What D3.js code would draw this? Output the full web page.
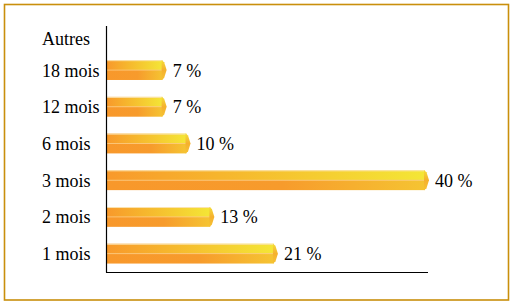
<!DOCTYPE html>
<html>
<head>
<meta charset="utf-8">
<script src="https://cdn.jsdelivr.net/npm/d3@7"></script>
<style>
  html, body { margin: 0; padding: 0; background: #fff; }
  svg { display: block; }
</style>
</head>
<body>
<svg id="chart" width="521" height="306"></svg>
<script>
/* chart data, top to bottom */
const categories = ['Autres', '18 mois', '12 mois', '6 mois', '3 mois', '2 mois', '1 mois'];
const values = [null, 7, 7, 10, 40, 13, 21];
const valueLabels = ['', '7 %', '7 %', '10 %', '40 %', '13 %', '21 %'];

const data = categories.map((c, i) => ({ name: c, value: values[i], label: valueLabels[i] }));

/* frame settings */
const width = 521;
const height = 306;
const margin = { top: 15, right: 94, bottom: 34, left: 107 };
const fontName = 'Liberation Serif';

const svg = d3.select('#chart');

/* outer golden frame */
svg.append('rect')
  .attr('x', 4.5).attr('y', 4.5)
  .attr('width', 504).attr('height', 295.5)
  .attr('fill', 'none')
  .attr('stroke', '#c98f0c')
  .attr('stroke-width', 1.6);

/* scales */
const xScale = d3.scaleLinear().domain([0, 40]).range([margin.left, 425]);
const yScale = d3.scaleBand()
  .domain(categories)
  .range([margin.top, height - margin.bottom])
  .paddingInner(0.46)
  .paddingOuter(0.23);

/* gradients: top face and darker bottom face */
const defs = svg.append('defs');
const gTop = defs.append('linearGradient').attr('id', 'gradTop')
  .attr('x1', 0).attr('x2', 1).attr('y1', 0).attr('y2', 0);
gTop.append('stop').attr('offset', '0%').attr('stop-color', '#f8992b');
gTop.append('stop').attr('offset', '35%').attr('stop-color', '#f6b52d');
gTop.append('stop').attr('offset', '100%').attr('stop-color', '#f4e636');

const gBot = defs.append('linearGradient').attr('id', 'gradBot')
  .attr('x1', 0).attr('x2', 1).attr('y1', 0).attr('y2', 0);
gBot.append('stop').attr('offset', '0%').attr('stop-color', '#f8982b');
gBot.append('stop').attr('offset', '55%').attr('stop-color', '#f79b2c');
gBot.append('stop').attr('offset', '100%').attr('stop-color', '#f5c432');

const gTip = defs.append('linearGradient').attr('id', 'gradTip')
  .attr('x1', 0).attr('x2', 0).attr('y1', 0).attr('y2', 1);
gTip.append('stop').attr('offset', '0%').attr('stop-color', '#f4dc38');
gTip.append('stop').attr('offset', '50%').attr('stop-color', '#f5b02e');
gTip.append('stop').attr('offset', '100%').attr('stop-color', '#f6c233');

const bars = svg.append('g')
  .selectAll('g')
  .data(data.filter(d => d.value != null))
  .enter()
  .append('g');

const bw = yScale.bandwidth();

bars.append('rect')
  .attr('x', xScale(0))
  .attr('y', d => yScale(d.name))
  .attr('width', d => xScale(d.value) - xScale(0))
  .attr('height', bw / 2)
  .attr('fill', 'url(#gradTop)');

bars.append('rect')
  .attr('x', xScale(0))
  .attr('y', d => yScale(d.name) + bw / 2)
  .attr('width', d => xScale(d.value) - xScale(0))
  .attr('height', bw / 2)
  .attr('fill', 'url(#gradBot)');

/* light edge lines */
bars.append('line')
  .attr('x1', xScale(0))
  .attr('x2', d => xScale(d.value))
  .attr('y1', d => yScale(d.name) + 0.5)
  .attr('y2', d => yScale(d.name) + 0.5)
  .attr('stroke', '#fbe3b0').attr('stroke-width', 1);

bars.append('line')
  .attr('x1', xScale(0))
  .attr('x2', d => xScale(d.value))
  .attr('y1', d => yScale(d.name) + bw / 2)
  .attr('y2', d => yScale(d.name) + bw / 2)
  .attr('stroke', '#fcc879').attr('stroke-width', 1)
  .attr('stroke-opacity', 0.8);

/* pointed end */
bars.append('path')
  .attr('d', d => {
    const x = xScale(d.value);
    const y = yScale(d.name);
    return `M${x - 1},${y} L${x + 1.5},${y + 2} L${x + 4},${y + bw / 2} L${x + 1.5},${y + bw - 2} L${x - 1},${y + bw} Z`;
  })
  .attr('fill', 'url(#gradTip)');

/* value labels */
bars.append('text')
  .attr('x', d => xScale(d.value) + 10)
  .attr('y', d => yScale(d.name) + bw / 2)
  .attr('dy', '0.36em')
  .attr('font-family', fontName)
  .attr('font-size', 18)
  .attr('fill', '#000')
  .text(d => d.label);

/* category labels */
svg.append('g')
  .selectAll('text')
  .data(data)
  .enter()
  .append('text')
  .attr('x', 42)
  .attr('y', d => yScale(d.name) + bw / 2 + (d.value == null ? 5 : 0))
  .attr('dy', '0.36em')
  .attr('font-family', fontName)
  .attr('font-size', 18)
  .attr('fill', '#000')
  .text(d => d.name);

/* axis lines */
svg.append('line')
  .attr('x1', xScale(0) - 0.5).attr('x2', xScale(0) - 0.5)
  .attr('y1', 26).attr('y2', 272.5)
  .attr('stroke', '#000').attr('stroke-width', 1.2);

svg.append('line')
  .attr('x1', xScale(0) - 1).attr('x2', xScale(40) + 3)
  .attr('y1', 272.5).attr('y2', 272.5)
  .attr('stroke', '#000').attr('stroke-width', 1.2);
</script>
</body>
</html>
